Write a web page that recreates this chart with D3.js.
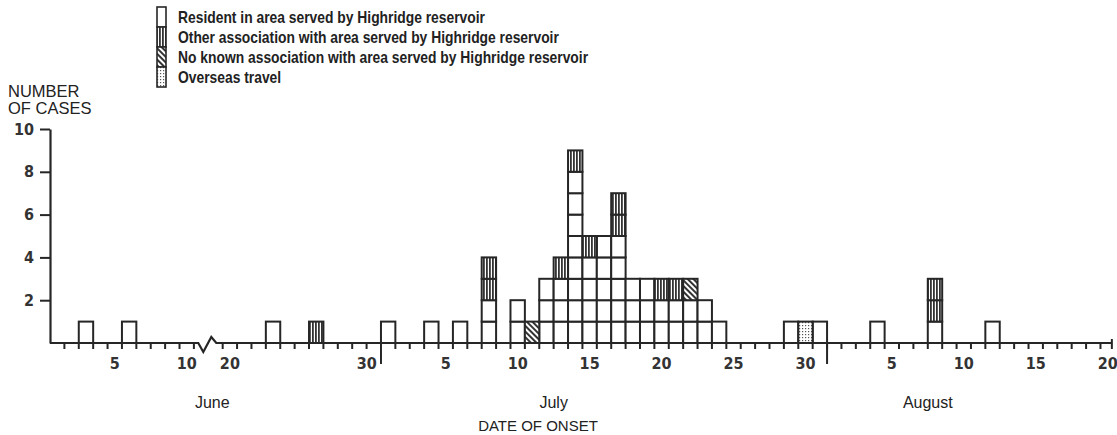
<!DOCTYPE html>
<html>
<head>
<meta charset="utf-8">
<script src="https://cdn.jsdelivr.net/npm/d3@7"></script>
<style>
  body { margin: 0; background: #fff; }
  svg { display: block; }
  .lab { font-family: "Liberation Sans", Arial, sans-serif; fill: #222; }
  .num { font-family: "DejaVu Sans Condensed", "Liberation Sans Narrow", "Liberation Sans", sans-serif; font-weight: bold; fill: #333; }
</style>
</head>
<body>
<div id="chart"></div>
<script>
// day segments shown on the axis (June 12-18 is cut out by the break)
var segments = [["Jun", 1, 11], ["Jun", 19, 30], ["Jul", 1, 31], ["Aug", 1, 20]];

// dates with cases, and number of cases per group
var caseDates = ["Jun 3", "Jun 6", "Jun 23", "Jun 26", "Jul 1", "Jul 4", "Jul 6", "Jul 8", "Jul 10", "Jul 11",
    "Jul 12", "Jul 13", "Jul 14", "Jul 15", "Jul 16", "Jul 17", "Jul 18", "Jul 19", "Jul 20", "Jul 21",
    "Jul 22", "Jul 23", "Jul 24", "Jul 29", "Jul 30", "Jul 31", "Aug 4", "Aug 8", "Aug 12"];
var resident = [1, 1, 1, 0, 1, 1, 1, 2, 2, 0, 3, 3, 8, 4, 5, 5, 3, 3, 2, 2, 2, 2, 1, 1, 0, 1, 1, 1, 1];
var other    = [0, 0, 0, 1, 0, 0, 0, 2, 0, 0, 0, 1, 1, 1, 0, 2, 0, 0, 1, 1, 0, 0, 0, 0, 0, 0, 0, 2, 0];
var noKnown  = [0, 0, 0, 0, 0, 0, 0, 0, 0, 1, 0, 0, 0, 0, 0, 0, 0, 0, 0, 0, 1, 0, 0, 0, 0, 0, 0, 0, 0];
var overseas = [0, 0, 0, 0, 0, 0, 0, 0, 0, 0, 0, 0, 0, 0, 0, 0, 0, 0, 0, 0, 0, 0, 0, 0, 1, 0, 0, 0, 0];

var groupNames = ["Resident in area served by Highridge reservoir",
    "Other association with area served by Highridge reservoir",
    "No known association with area served by Highridge reservoir",
    "Overseas travel"];
var yTicks = [2, 4, 6, 8, 10];
var xLabelDays = ["Jun 5", "Jun 10", "Jun 20", "Jun 30", "Jul 5", "Jul 10", "Jul 15", "Jul 20", "Jul 25",
    "Jul 30", "Aug 5", "Aug 10", "Aug 15", "Aug 20"];
var monthNames = ["June", "July", "August"];

function draw() {
    var w = 1117;
    var h = 435;
    var ink = "#262626";

    // build the day list
    var days = [];
    segments.forEach(function(s) {
        for (var d = s[1]; d <= s[2]; d++) days.push(s[0] + " " + d);
    });

    var x = d3.scaleBand()
        .domain(days)
        .range([50, 50 + days.length * 14.39]);
    var bw = x.bandwidth();

    var y = d3.scaleLinear()
        .domain([0, 10])
        .range([343, 129]);

    var svg = d3.select("#chart")
        .append("svg")
        .attr("width", w)
        .attr("height", h);

    // fill patterns
    var defs = svg.append("defs");
    var vl = defs.append("pattern").attr("id", "vlines")
        .attr("patternUnits", "userSpaceOnUse").attr("width", 3).attr("height", 3);
    vl.append("rect").attr("width", 3).attr("height", 3).attr("fill", "#fff");
    vl.append("rect").attr("width", 1.8).attr("height", 3).attr("fill", "#333");

    var dg = defs.append("pattern").attr("id", "diag")
        .attr("patternUnits", "userSpaceOnUse").attr("width", 4).attr("height", 4)
        .attr("patternTransform", "rotate(-45)");
    dg.append("rect").attr("width", 4).attr("height", 4).attr("fill", "#fff");
    dg.append("rect").attr("width", 2).attr("height", 4).attr("fill", "#333");

    var dt = defs.append("pattern").attr("id", "dots")
        .attr("patternUnits", "userSpaceOnUse").attr("width", 3).attr("height", 3);
    dt.append("rect").attr("width", 3).attr("height", 3).attr("fill", "#fff");
    dt.append("rect").attr("x", 1).attr("y", 1).attr("width", 1.2).attr("height", 1.2).attr("fill", "#555");

    var fills = ["#fff", "url(#vlines)", "url(#diag)", "url(#dots)"];

    // stack the groups
    var table = caseDates.map(function(d, i) {
        return { date: d, g0: resident[i], g1: other[i], g2: noKnown[i], g3: overseas[i] };
    });
    var series = d3.stack().keys(["g0", "g1", "g2", "g3"])(table);

    // one cell per case
    var cells = [];
    series.forEach(function(s, k) {
        s.forEach(function(seg) {
            for (var v = seg[0]; v < seg[1]; v++) {
                cells.push({ date: seg.data.date, v: v, k: k });
            }
        });
    });

    svg.append("g").selectAll("rect")
        .data(cells)
        .enter()
        .append("rect")
        .attr("x", function(d) { return x(d.date); })
        .attr("y", function(d) { return y(d.v + 1); })
        .attr("width", bw)
        .attr("height", function(d) { return y(d.v) - y(d.v + 1); })
        .attr("fill", function(d) { return fills[d.k]; })
        .attr("stroke", ink)
        .attr("stroke-width", 2);

    // x axis line with the break
    var xb = x("Jun 19");
    var xEnd = x("Aug 20") + bw - 3;
    svg.append("path")
        .attr("d", "M" + 50 + "," + y(0) + "H" + (xb - 10) + "L" + (xb - 5) + "," + (y(0) + 9) +
            "L" + (xb + 3) + "," + (y(0) - 6) + "L" + (xb + 8) + "," + y(0) + "H" + xEnd)
        .attr("fill", "none")
        .attr("stroke", ink)
        .attr("stroke-width", 2.2);

    // day ticks at day boundaries
    var tickDays = days.filter(function(d) {
        return d != "Jun 1" && d != "Jun 19" && d != "Jul 1";
    });
    var tickAxis = svg.append("g")
        .attr("transform", "translate(" + (-bw / 2) + "," + y(0) + ")")
        .call(d3.axisBottom(x).tickValues(tickDays).tickSize(6).tickFormat(""));
    tickAxis.select(".domain").remove();
    tickAxis.selectAll("line").attr("stroke", ink).attr("stroke-width", 2);
    // end tick
    svg.append("line")
        .attr("x1", xEnd).attr("x2", xEnd)
        .attr("y1", y(0) - 4).attr("y2", y(0) + 6)
        .attr("stroke", ink).attr("stroke-width", 2);

    // month separators
    ["Jul 1", "Aug 1"].forEach(function(d) {
        svg.append("line")
            .attr("x1", x(d)).attr("x2", x(d))
            .attr("y1", y(0)).attr("y2", y(0) + 21)
            .attr("stroke", ink).attr("stroke-width", 2);
    });

    // x labels
    var xLab = svg.append("g")
        .attr("transform", "translate(0," + y(0) + ")")
        .call(d3.axisBottom(x).tickValues(xLabelDays).tickSize(0).tickPadding(15)
            .tickFormat(function(d) { return d.split(" ")[1]; }));
    xLab.select(".domain").remove();
    xLab.selectAll("text")
        .attr("class", "num")
        .attr("font-size", 16)
        .attr("font-family", null);
    xLab.selectAll(".tick")
        .filter(function(d) { return d == "Jun 30"; })
        .select("text").attr("dx", -7);

    // y axis
    var yAx = svg.append("g")
        .attr("transform", "translate(50,0)")
        .call(d3.axisLeft(y).tickValues(yTicks).tickSize(10).tickSizeOuter(0).tickPadding(6));
    yAx.select(".domain").attr("stroke", ink).attr("stroke-width", 2.2);
    yAx.selectAll("line").attr("stroke", ink).attr("stroke-width", 2);
    yAx.selectAll("text")
        .attr("class", "num")
        .attr("font-size", 16)
        .attr("font-family", null);

    // axis titles
    svg.append("text").attr("class", "lab")
        .attr("x", 8).attr("y", 97).attr("font-size", 16.5)
        .text("NUMBER");
    svg.append("text").attr("class", "lab")
        .attr("x", 8).attr("y", 114).attr("font-size", 16.5)
        .text("OF CASES");

    var monthX = [x("Jun 19") + 4, x("Jul 12") + bw, x("Aug 8")];
    svg.selectAll(".month")
        .data(monthNames)
        .enter()
        .append("text")
        .attr("class", "lab month")
        .attr("x", function(d, i) { return monthX[i]; })
        .attr("y", 408)
        .attr("text-anchor", "middle")
        .attr("font-size", 16)
        .text(function(d) { return d; });

    svg.append("text").attr("class", "lab")
        .attr("x", 538).attr("y", 431)
        .attr("text-anchor", "middle")
        .attr("font-size", 15)
        .text("DATE OF ONSET");

    // legend
    var leg = svg.append("g");
    leg.selectAll("rect")
        .data(groupNames)
        .enter()
        .append("rect")
        .attr("x", 157)
        .attr("y", function(d, i) { return 7 + i * 20; })
        .attr("width", 9)
        .attr("height", 20)
        .attr("fill", function(d, i) { return fills[i]; })
        .attr("stroke", ink)
        .attr("stroke-width", 1.6);
    var legText = leg.selectAll("text")
        .data(groupNames)
        .enter()
        .append("text")
        .attr("class", "lab")
        .attr("x", 178)
        .attr("y", function(d, i) { return 23 + i * 20; })
        .attr("font-size", 17)
        .attr("font-weight", "bold")
        .attr("fill", "#222")
        .text(function(d) { return d; });
    // the printed legend type is condensed: squeeze to the width of the first row
    var squeeze = 307 / legText.node().getComputedTextLength();
    legText.each(function() {
        d3.select(this)
            .attr("textLength", this.getComputedTextLength() * squeeze)
            .attr("lengthAdjust", "spacingAndGlyphs");
    });
}

window.onload = draw;
</script>
</body>
</html>
